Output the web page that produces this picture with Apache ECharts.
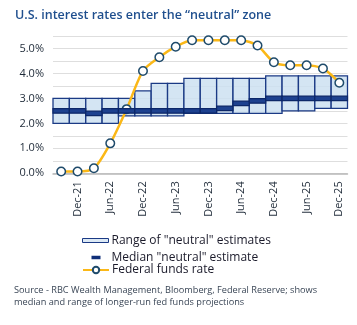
<!DOCTYPE html>
<html>
<head>
<meta charset="utf-8">
<script src="https://cdn.jsdelivr.net/npm/echarts@6/dist/echarts.min.js"></script>
<style>
html,body{margin:0;padding:0;background:#fff;}
#c{width:357px;height:325px;}
</style>
</head>
<body>
<div id="c"></div>
<script>
const categories = ['Sep-21','Dec-21','Mar-22','Jun-22','Sep-22','Dec-22','Mar-23','Jun-23','Sep-23','Dec-23','Mar-24','Jun-24','Sep-24','Dec-24','Mar-25','Jun-25','Sep-25','Dec-25'];
const rangeLow  = [2.0,2.0,2.0,2.0,2.3,2.3,2.3,2.3,2.4,2.4,2.4,2.4,2.4,2.4,2.5,2.5,2.6,2.6];
const rangeHigh = [3.0,3.0,3.0,3.0,3.0,3.3,3.6,3.6,3.8,3.8,3.8,3.8,3.8,3.9,3.9,3.9,3.9,3.9];
const median    = [2.5,2.5,2.4,2.5,2.5,2.5,2.5,2.5,2.5,2.5,2.6,2.8,2.9,3.0,3.0,3.0,3.0,3.0];
const fedFunds  = [0.07,0.07,0.2,1.2,2.57,4.1,4.65,5.07,5.33,5.33,5.33,5.33,5.12,4.45,4.33,4.33,4.2,3.63];
const yTicks = { min: 0, max: 5.5, interval: 0.5 };

const NAVY = '#1b3a85';
const FILL = 'rgba(205,224,241,0.85)';
const YEL = '#fbb817';
const FONT = 'Open Sans';

const chart = echarts.init(document.getElementById('c'), null, {renderer:'canvas'});

const rangeData = categories.map((c,i)=>[i, rangeLow[i], rangeHigh[i]]);
const medianData = categories.map((c,i)=>[i, median[i]]);

chart.setOption({
  animation:false,
  textStyle:{fontFamily:FONT},
  title:{
    text:'U.S. interest rates enter the \u201cneutral\u201d zone',
    left:10, top:4,
    textStyle:{fontFamily:FONT, fontSize:12.5, fontWeight:600, color:'#1f4f8e'}
  },
  graphic:[{
    type:'text', left:14, top:285,
    style:{
      text:'Source - RBC Wealth Management, Bloomberg, Federal Reserve; shows\nmedian and range of longer-run fed funds projections',
      font:'9.2px "Open Sans"', fill:'#3a4656', lineHeight:11.5
    }
  }],
  legend:[
    {
      left:82, top:234.5, padding:0, orient:'vertical', itemWidth:26, itemHeight:4,
      textStyle:{fontFamily:FONT, fontSize:12, color:'#1a1a2a', padding:[0,0,0,-2]},
      data:[{name:'Range of "neutral" estimates', icon:'rect', itemStyle:{color:'#dce9f5', borderColor:NAVY, borderWidth:1}}]
    },
    {
      left:91.5, top:251.5, padding:0, orient:'vertical', itemWidth:9, itemHeight:3.5,
      textStyle:{fontFamily:FONT, fontSize:12, color:'#1a1a2a', padding:[0,0,0,6]},
      data:[{name:'Median "neutral" estimate', icon:'rect', itemStyle:{color:'#102f78', borderWidth:0}}]
    },
    {
      left:82, top:264, padding:0, orient:'vertical', itemWidth:26, itemHeight:8,
      textStyle:{fontFamily:FONT, fontSize:12, color:'#1a1a2a', padding:[0,0,0,-2]},
      data:['Federal funds rate']
    }
  ],
  grid:{left:53, right:9.5, top:36, bottom:151.7, containLabel:false},
  xAxis:{
    type:'category', data:categories, boundaryGap:true,
    axisLine:{lineStyle:{color:'#b8b8b8', width:1.5}},
    axisTick:{show:false},
    axisLabel:{
      rotate:90, margin:8, fontSize:11, color:'#1e2a38', fontFamily:FONT,
      interval:(i)=> i%2===1
    }
  },
  yAxis:{
    type:'value', min:yTicks.min, max:yTicks.max, interval:yTicks.interval,
    axisLine:{show:false}, axisTick:{show:false},
    splitLine:{lineStyle:{color:'#dedede', width:1}},
    axisLabel:{
      margin:9, fontSize:11, color:'#1e2a38', fontFamily:FONT,
      formatter:(v)=> (Math.abs(v - Math.round(v))<1e-6 && v<5.5) ? v.toFixed(1)+'%' : ''
    }
  },
  series:[
    {
      name:'Range of "neutral" estimates', type:'custom', z:1,
      itemStyle:{color:'#dce9f5'},
      renderItem:(params, api)=>{
        const top = api.coord([api.value(0), api.value(2)]);
        const bot = api.coord([api.value(0), api.value(1)]);
        const w = api.size([1,0])[0];
        return {type:'rect', shape:{x:top[0]-w/2, y:top[1], width:w, height:bot[1]-top[1]},
          style:{fill:FILL, stroke:NAVY, lineWidth:1.3}};
      },
      encode:{x:0, y:[1,2]},
      data:rangeData
    },
    {
      name:'Federal funds rate', type:'line', z:2,
      data:fedFunds, smooth:0.25,
      lineStyle:{color:YEL, width:2.5},
      symbol:'circle', symbolSize:8.5,
      itemStyle:{color:'#ffffff', borderColor:'#1f4b6b', borderWidth:1.5},
      emphasis:{disabled:true}
    },
    {
      name:'Median "neutral" estimate', type:'custom', z:3,
      itemStyle:{color:'#102f78'},
      renderItem:(params, api)=>{
        const p = api.coord([api.value(0), api.value(1)]);
        const w = api.size([1,0])[0];
        return {type:'rect', shape:{x:p[0]-w/2, y:p[1]-2.3, width:w, height:4.6},
          style:{fill:'#1d418f', stroke:'#0c2768', lineWidth:1.2}};
      },
      encode:{x:0, y:1},
      data:medianData
    }
  ]
});
</script>
</body>
</html>
